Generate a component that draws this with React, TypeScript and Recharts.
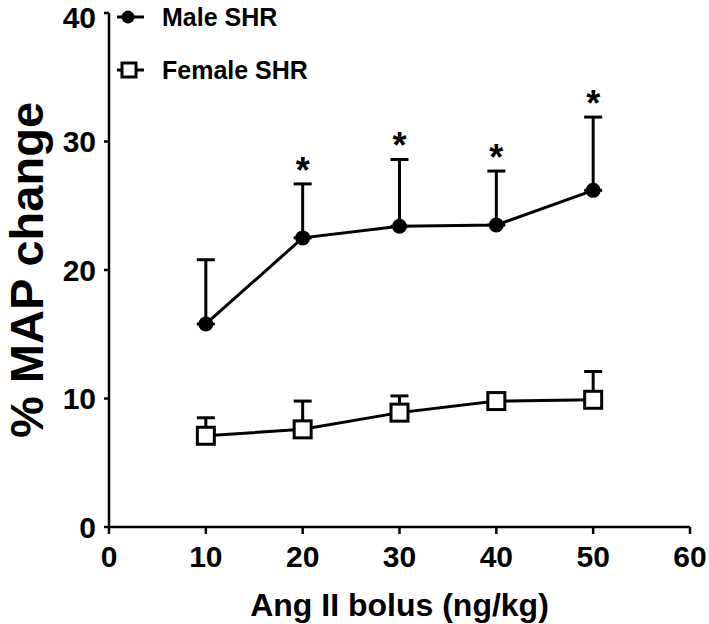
import React from "react";
import { LineChart, Line, XAxis, YAxis, ErrorBar, Legend, LabelList, Label } from "recharts";

const FONT = '"Liberation Sans", Arial, sans-serif';

const doses = [10, 20, 30, 40, 50];
const maleMean = [15.8, 22.5, 23.4, 23.5, 26.2];
const maleSem = [5.0, 4.2, 5.2, 4.2, 5.7];
const femaleMean = [7.1, 7.6, 8.9, 9.8, 9.9];
const femaleSem = [1.4, 2.2, 1.3, 0.4, 2.2];
const significant = [false, true, true, true, true];

const xTicks = [0, 10, 20, 30, 40, 50, 60];
const yTicks = [0, 10, 20, 30, 40];

const data = doses.map((dose, i) => ({
  dose,
  male: maleMean[i],
  maleErr: [0, maleSem[i]],
  female: femaleMean[i],
  femaleErr: [0, femaleSem[i]],
  star: significant[i] ? maleMean[i] + maleSem[i] : null,
}));

const SquareDot = (props: any) => {
  const { cx, cy } = props;
  if (cx == null || cy == null) return null;
  return (
    <rect x={cx - 8.5} y={cy - 8.5} width={17} height={17} fill="#fff" stroke="#000" strokeWidth={3} />
  );
};

const Star = (props: any) => {
  const { x, y, value } = props;
  if (value == null || y == null || isNaN(y)) return null;
  return (
    <text x={x} y={y - 1} textAnchor="middle" fontSize={36} fontWeight="bold" fontFamily={FONT} fill="#000">
      *
    </text>
  );
};

const LegendBox = () => (
  <div style={{ fontFamily: FONT, fontWeight: "bold", fontSize: 25, color: "#000" }}>
    <div style={{ display: "flex", alignItems: "center", height: 34 }}>
      <svg width={28} height={20}>
        <line x1={0} y1={10} x2={27} y2={10} stroke="#000" strokeWidth={3} />
        <circle cx={11} cy={10} r={6.5} fill="#000" />
      </svg>
      <span style={{ marginLeft: 17 }}>Male SHR</span>
    </div>
    <div style={{ display: "flex", alignItems: "center", height: 34, marginTop: 19 }}>
      <svg width={28} height={20}>
        <line x1={0} y1={10} x2={27} y2={10} stroke="#000" strokeWidth={3} />
        <rect x={5} y={3} width={14} height={14} fill="#fff" stroke="#000" strokeWidth={3} />
      </svg>
      <span style={{ marginLeft: 17 }}>Female SHR</span>
    </div>
  </div>
);

const YTitle = (props: any) => {
  const { viewBox } = props;
  const cx = viewBox.x + 43;
  const cy = viewBox.y + viewBox.height / 2;
  return (
    <text
      x={cx}
      y={cy}
      transform={`rotate(-90, ${cx}, ${cy})`}
      textAnchor="middle"
      fontSize={47}
      fontWeight="bold"
      fontFamily={FONT}
      fill="#000"
    >
      % MAP change
    </text>
  );
};

export default function App() {
  const tickStyle = { fill: "#000", fontSize: 30, fontWeight: "bold", fontFamily: FONT };
  const axisStroke = { stroke: "#000", strokeWidth: 2.5 };
  return (
    <div style={{ position: "absolute", left: 0, top: 0, background: "#fff" }}>
      <LineChart width={709} height={624} data={data} margin={{ top: 13, right: 19, bottom: 0, left: 0 }}>
        <XAxis
          dataKey="dose"
          type="number"
          domain={[0, 60]}
          ticks={xTicks}
          height={97}
          tick={tickStyle}
          tickSize={7}
          tickMargin={12}
          axisLine={axisStroke}
          tickLine={axisStroke}
        >
          <Label
            value="Ang II bolus (ng/kg)"
            position="insideBottom"
            offset={8}
            style={{ fill: "#000", fontSize: 32, fontWeight: "bold", fontFamily: FONT }}
          />
        </XAxis>
        <YAxis
          type="number"
          domain={[0, 40]}
          ticks={yTicks}
          width={109}
          tick={tickStyle}
          tickSize={5}
          tickMargin={8}
          axisLine={axisStroke}
          tickLine={axisStroke}
        >
          <Label content={YTitle} />
        </YAxis>
        <Legend
          layout="horizontal"
          verticalAlign="middle"
          align="center"
          content={LegendBox}
          wrapperStyle={{ top: 0, left: 117, width: "auto" }}
        />
        <Line
          dataKey="female"
          type="linear"
          stroke="#000"
          strokeWidth={3}
          dot={<SquareDot />}
          activeDot={false}
          isAnimationActive={false}
        >
          <ErrorBar dataKey="femaleErr" direction="y" width={9} stroke="#000" strokeWidth={3} />
        </Line>
        <Line
          dataKey="male"
          type="linear"
          stroke="#000"
          strokeWidth={3}
          dot={{ r: 7.5, fill: "#000", stroke: "#000", strokeWidth: 0 }}
          activeDot={false}
          isAnimationActive={false}
        >
          <ErrorBar dataKey="maleErr" direction="y" width={9} stroke="#000" strokeWidth={3} />
        </Line>
        <Line
          dataKey="star"
          stroke="none"
          dot={false}
          activeDot={false}
          legendType="none"
          isAnimationActive={false}
        >
          <LabelList dataKey="star" content={Star} />
        </Line>
      </LineChart>
    </div>
  );
}
